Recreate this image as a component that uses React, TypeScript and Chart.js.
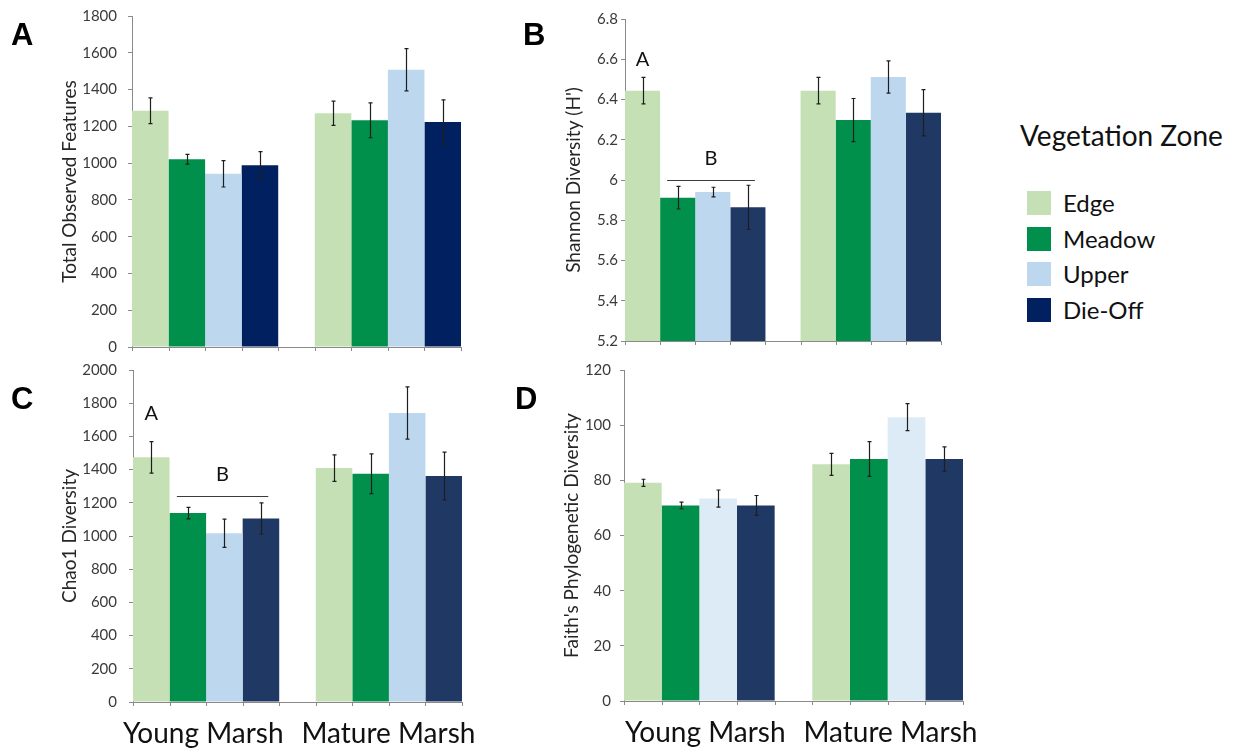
import React, { useEffect, useRef } from "react";
import { Chart, registerables } from "chart.js";

Chart.register(...registerables);

const FONT = "Lato, 'Open Sans', sans-serif";

const marshes = ["Young Marsh", "Mature Marsh"];
const zones = ["Edge", "Meadow", "Upper", "Die-Off"];

// Fill colours per zone (Edge, Meadow, Upper, Die-Off)
const legendColors = ["#C5E0B4", "#00904C", "#BDD7EE", "#002060"];
const observedColors = ["#C5E0B4", "#00904C", "#BDD7EE", "#002060"];
const shannonColors = ["#C5E0B4", "#00904C", "#BDD7EE", "#203864"];
const chaoColors = ["#C5E0B4", "#00904C", "#BDD7EE", "#203864"];
const faithColors = ["#C5E0B4", "#00904C", "#DDEBF7", "#203864"];

// Rows: Edge, Meadow, Upper, Die-Off. Columns: Young Marsh, Mature Marsh.
const observedMean = [
  [1285, 1271],
  [1021, 1233],
  [942, 1508],
  [988, 1223],
];
const observedSE = [
  [70, 66],
  [27, 95],
  [72, 115],
  [74, 121],
];

const shannonMean = [
  [6.444, 6.444],
  [5.912, 6.298],
  [5.94, 6.512],
  [5.864, 6.334],
];
const shannonSE = [
  [0.066, 0.066],
  [0.056, 0.107],
  [0.024, 0.08],
  [0.11, 0.115],
];

const chaoMean = [
  [1474, 1409],
  [1138, 1375],
  [1017, 1741],
  [1106, 1361],
];
const chaoSE = [
  [95, 80],
  [35, 120],
  [85, 157],
  [94, 144],
];

const faithMean = [
  [79.1, 85.8],
  [70.9, 87.7],
  [73.4, 102.9],
  [70.9, 87.7],
];
const faithSE = [
  [1.3, 4.0],
  [1.2, 6.3],
  [3.1, 4.9],
  [3.6, 4.4],
];

// Axis ranges: [min, max, step]
const observedAxis = [0, 1800, 200];
const shannonAxis = [5.2, 6.8, 0.2];
const chaoAxis = [0, 2000, 200];
const faithAxis = [0, 120, 20];

// Significance groupings within Young Marsh: letter over Edge, bracket over the rest
const shannonLetters = [
  { text: "A", value: 6.6 },
  { text: "B", value: 6.0 },
];
const chaoLetters = [
  { text: "A", value: 1740 },
  { text: "B", value: 1240 },
];

const AXIS_GREY = "#8a8a8a";
// Each marsh group holds four bars in a slot five bars wide; the axis runs
// from the first bar's left edge to the last bar's right edge.
const GROUP_SHARE = 0.8;
const X_MIN = -GROUP_SHARE / 2;
const X_MAX = marshes.length - 1 + GROUP_SHARE / 2;

const yOf = (d: any) => (typeof d === "number" ? d : d.y);

const errorBarPlugin = {
  id: "errorBars",
  afterDatasetsDraw(chart: any) {
    const y = chart.scales.y;
    const ctx = chart.ctx;
    ctx.save();
    ctx.strokeStyle = "#1e1e1e";
    ctx.lineWidth = 1.2;
    chart.data.datasets.forEach((ds: any, i: number) => {
      const meta = chart.getDatasetMeta(i);
      meta.data.forEach((bar: any, j: number) => {
        const v = yOf(ds.data[j]);
        const e = ds.errors[j];
        const top = y.getPixelForValue(v + e);
        const bot = y.getPixelForValue(v - e);
        const x = Math.round(bar.x) + 0.5;
        ctx.beginPath();
        ctx.moveTo(x, top);
        ctx.lineTo(x, bot);
        ctx.moveTo(x - 2, top);
        ctx.lineTo(x + 2, top);
        ctx.moveTo(x - 2, bot);
        ctx.lineTo(x + 2, bot);
        ctx.stroke();
      });
    });
    ctx.restore();
  },
};

// Small tick marks under the x axis at every bar edge
const barEdgeTicksPlugin = {
  id: "barEdgeTicks",
  afterDraw(chart: any) {
    const ctx = chart.ctx;
    const bottom = chart.chartArea.bottom;
    const xs = new Set<number>();
    chart.data.datasets.forEach((_ds: any, i: number) => {
      chart.getDatasetMeta(i).data.forEach((bar: any) => {
        xs.add(Math.round(bar.x - bar.width / 2));
        xs.add(Math.round(bar.x + bar.width / 2));
      });
    });
    ctx.save();
    ctx.strokeStyle = AXIS_GREY;
    ctx.lineWidth = 1;
    ctx.beginPath();
    xs.forEach((x) => {
      ctx.moveTo(x + 0.5, bottom);
      ctx.lineTo(x + 0.5, bottom + 4);
    });
    ctx.stroke();
    ctx.restore();
  },
};

const significancePlugin = {
  id: "significance",
  afterDraw(chart: any, _args: any, opts: any) {
    const letters = opts && opts.letters;
    if (!letters) return;
    const y = chart.scales.y;
    const ctx = chart.ctx;
    const edge = chart.getDatasetMeta(0).data[0];
    const meadow = chart.getDatasetMeta(1).data[0];
    const dieOff = chart.getDatasetMeta(3).data[0];
    ctx.save();
    ctx.fillStyle = "#111";
    ctx.font = `20px ${FONT}`;
    ctx.textAlign = "center";
    ctx.textBaseline = "middle";
    ctx.fillText(letters[0].text, edge.x, y.getPixelForValue(letters[0].value));
    const ly = Math.round(y.getPixelForValue(letters[1].value)) + 0.5;
    const x0 = meadow.x - meadow.width / 2 + meadow.width * 0.2;
    const x1 = dieOff.x + dieOff.width * 0.2;
    ctx.strokeStyle = "#3c3c3c";
    ctx.lineWidth = 1;
    ctx.beginPath();
    ctx.moveTo(x0, ly);
    ctx.lineTo(x1, ly);
    ctx.stroke();
    ctx.fillText(letters[1].text, (x0 + x1) / 2, ly - 22);
    ctx.restore();
  },
};

// Large marsh captions under the x axis
const marshCaptionPlugin = {
  id: "marshCaptions",
  afterDraw(chart: any, _args: any, opts: any) {
    if (!opts || !opts.show) return;
    const ctx = chart.ctx;
    const { left, right, bottom } = chart.chartArea;
    const mid = (left + right) / 2 + (opts.shift || 0);
    const labels = chart.data.labels;
    ctx.save();
    ctx.fillStyle = "#111";
    ctx.font = `28px ${FONT}`;
    ctx.textBaseline = "alphabetic";
    ctx.textAlign = "right";
    ctx.fillText(labels[0], mid - 9, bottom + 41);
    ctx.textAlign = "left";
    ctx.fillText(labels[1], mid + 9, bottom + 41);
    ctx.restore();
  },
};

type PanelProps = {
  left: number;
  top: number;
  width: number;
  height: number;
  pad: { left: number; top: number; right: number; bottom: number };
  axisWidth: number;
  tickPadding: number;
  title: string;
  means: number[][];
  errors: number[][];
  colors: string[];
  axis: number[];
  letters?: { text: string; value: number }[];
  captions?: boolean;
  captionShift?: number;
};

function Panel(p: PanelProps) {
  const ref = useRef<HTMLCanvasElement | null>(null);
  useEffect(() => {
    if (!ref.current) return;
    const [min, max, step] = p.axis;
    const chart = new Chart(ref.current, {
      type: "bar",
      data: {
        labels: marshes,
        datasets: zones.map((z, i) => ({
          label: z,
          data: p.means[i].map((v, j) => ({ x: j, y: v })),
          errors: p.errors[i],
          backgroundColor: p.colors[i],
          borderWidth: 0,
          categoryPercentage: GROUP_SHARE,
          barPercentage: 1,
        })) as any,
      },
      options: {
        responsive: false,
        animation: false,
        devicePixelRatio: 1,
        layout: { padding: p.pad },
        plugins: {
          legend: { display: false },
          tooltip: { enabled: false },
          significance: { letters: p.letters },
          marshCaptions: { show: !!p.captions, shift: p.captionShift || 0 },
        } as any,
        scales: {
          x: {
            type: "linear",
            min: X_MIN,
            max: X_MAX,
            offset: false,
            grid: { display: false },
            border: { display: true, color: AXIS_GREY, width: 1 },
            ticks: { display: false },
            afterBuildTicks: (s: any) => {
              s.ticks = marshes.map((_m, j) => ({ value: j }));
            },
            afterFit: (s: any) => {
              s.height = 6;
              s.paddingLeft = 0;
              s.paddingRight = 0;
            },
          },
          y: {
            type: "linear",
            min,
            max,
            grid: {
              drawOnChartArea: false,
              drawTicks: true,
              tickLength: 4,
              color: AXIS_GREY,
            },
            border: { display: true, color: AXIS_GREY, width: 1 },
            ticks: {
              stepSize: step,
              padding: p.tickPadding,
              color: "#3a3a3a",
              font: { family: FONT, size: 15 },
              callback: (v: any) => String(Number(Number(v).toFixed(2))),
            },
            title: {
              display: true,
              text: p.title,
              color: "#262626",
              font: { family: FONT, size: 19 },
              padding: 0,
            },
            afterFit: (s: any) => {
              s.width = p.axisWidth;
              // labels may overhang the plot area; the layout padding covers them
              s.paddingTop = 0;
              s.paddingBottom = 0;
            },
          },
        },
      } as any,
      plugins: [errorBarPlugin, barEdgeTicksPlugin, significancePlugin, marshCaptionPlugin],
    });
    return () => chart.destroy();
  }, []);
  return (
    <canvas
      ref={ref}
      width={p.width}
      height={p.height}
      style={{ position: "absolute", left: p.left, top: p.top, width: p.width, height: p.height }}
    />
  );
}

const letterStyle: React.CSSProperties = {
  position: "absolute",
  fontFamily: "'Liberation Sans', Arial, sans-serif",
  fontWeight: 700,
  fontSize: 31,
  lineHeight: "31px",
  color: "#000",
  margin: 0,
};

export default function App() {
  return (
    <div
      style={{
        position: "absolute",
        left: 0,
        top: 0,
        width: 1233,
        height: 750,
        background: "#fff",
        overflow: "hidden",
      }}
    >
      <Panel
        left={0}
        top={0}
        width={490}
        height={360}
        pad={{ left: 58, top: 16, right: 29, bottom: 7 }}
        axisWidth={74}
        tickPadding={11}
        title="Total Observed Features"
        means={observedMean}
        errors={observedSE}
        colors={observedColors}
        axis={observedAxis}
      />
      <Panel
        left={490}
        top={0}
        width={470}
        height={360}
        pad={{ left: 72, top: 19, right: 19, bottom: 13 }}
        axisWidth={63}
        tickPadding={3}
        title="Shannon Diversity (H')"
        means={shannonMean}
        errors={shannonSE}
        colors={shannonColors}
        axis={shannonAxis}
        letters={shannonLetters}
      />
      <Panel
        left={0}
        top={355}
        width={490}
        height={395}
        pad={{ left: 58, top: 15, right: 28, bottom: 42 }}
        axisWidth={75}
        tickPadding={12}
        title="Chao1 Diversity"
        means={chaoMean}
        errors={chaoSE}
        colors={chaoColors}
        axis={chaoAxis}
        letters={chaoLetters}
        captions
        captionShift={-5}
      />
      <Panel
        left={490}
        top={355}
        width={510}
        height={395}
        pad={{ left: 70, top: 15, right: 37, bottom: 43 }}
        axisWidth={64}
        tickPadding={9}
        title="Faith's Phylogenetic Diversity"
        means={faithMean}
        errors={faithSE}
        colors={faithColors}
        axis={faithAxis}
        captions
        captionShift={1}
      />

      <div style={{ ...letterStyle, left: 11, top: 19 }}>A</div>
      <div style={{ ...letterStyle, left: 523, top: 19 }}>B</div>
      <div style={{ ...letterStyle, left: 11, top: 383 }}>C</div>
      <div style={{ ...letterStyle, left: 515, top: 383 }}>D</div>

      <div
        style={{
          position: "absolute",
          left: 1020,
          top: 121,
          fontFamily: FONT,
          fontSize: 28,
          lineHeight: "28px",
          color: "#111",
          whiteSpace: "nowrap",
        }}
      >
        Vegetation Zone
      </div>
      {zones.map((z, i) => (
        <div
          key={z}
          style={{
            position: "absolute",
            left: 1027,
            top: 191 + i * 35.7,
            height: 24,
            display: "flex",
            alignItems: "center",
            whiteSpace: "nowrap",
          }}
        >
          <div style={{ width: 24, height: 24, background: legendColors[i] }} />
          <div
            style={{
              marginLeft: 12,
              fontFamily: FONT,
              fontSize: 24,
              lineHeight: "24px",
              color: "#111",
            }}
          >
            {z}
          </div>
        </div>
      ))}
    </div>
  );
}
